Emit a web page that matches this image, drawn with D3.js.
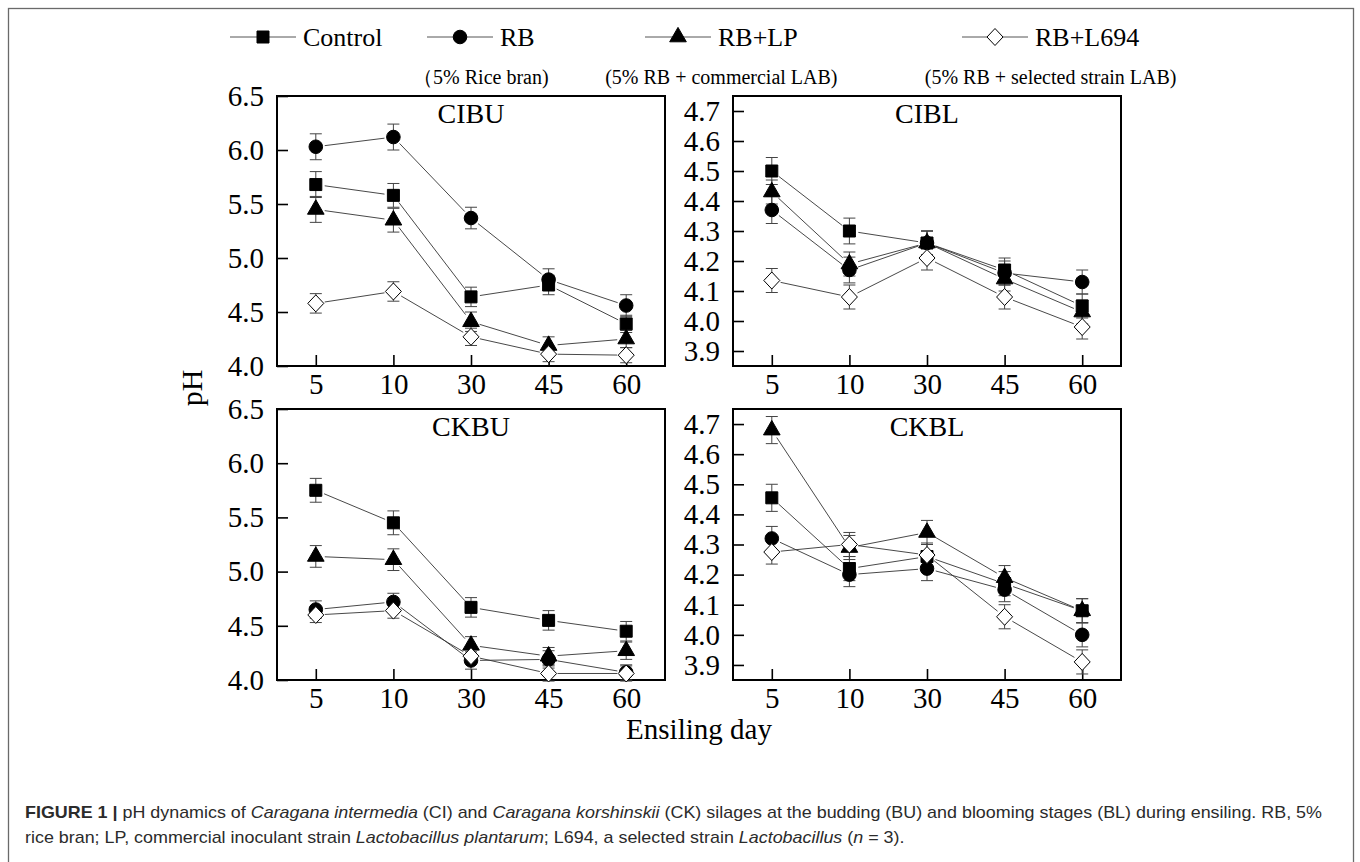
<!DOCTYPE html>
<html>
<head>
<meta charset="utf-8">
<script src="https://cdn.jsdelivr.net/npm/d3@7"></script>
<style>
  body { margin: 0; background: #fff; }
  svg { display: block; }
</style>
</head>
<body>
<div id="chart"></div>
<script>
// ensiling days (x categories) and treatments
const days = ["5", "10", "30", "45", "60"];
const treatments = ["Control", "RB", "RB+LP", "RB+L694"];
const treatmentNotes = ["", "（5% Rice bran)", "(5% RB + commercial LAB)", "(5% RB + selected strain LAB)"];

// pH means, one row per treatment (Control, RB, RB+LP, RB+L694)
const cibuPH = [
  [5.68, 5.58, 4.64, 4.75, 4.39],
  [6.03, 6.12, 5.37, 4.80, 4.56],
  [5.45, 5.35, 4.41, 4.19, 4.25],
  [4.58, 4.69, 4.27, 4.11, 4.10]
];
const cibuSE = [
  [0.12, 0.11, 0.09, 0.09, 0.08],
  [0.12, 0.12, 0.10, 0.10, 0.10],
  [0.12, 0.11, 0.09, 0.08, 0.08],
  [0.09, 0.09, 0.08, 0.07, 0.07]
];
const ciblPH = [
  [4.50, 4.30, 4.26, 4.17, 4.05],
  [4.37, 4.17, 4.26, 4.16, 4.13],
  [4.43, 4.19, 4.26, 4.14, 4.03],
  [4.135, 4.08, 4.21, 4.08, 3.98]
];
const ciblSE = [
  [0.045, 0.043, 0.04, 0.04, 0.04],
  [0.045, 0.043, 0.04, 0.04, 0.04],
  [0.04, 0.04, 0.04, 0.04, 0.04],
  [0.04, 0.04, 0.04, 0.04, 0.04]
];
const ckbuPH = [
  [5.75, 5.45, 4.67, 4.55, 4.45],
  [4.65, 4.72, 4.18, 4.19, 4.07],
  [5.14, 5.11, 4.32, 4.22, 4.27],
  [4.60, 4.64, 4.22, 4.06, 4.06]
];
const ckbuSE = [
  [0.11, 0.11, 0.09, 0.09, 0.09],
  [0.08, 0.08, 0.08, 0.08, 0.07],
  [0.10, 0.10, 0.08, 0.08, 0.08],
  [0.07, 0.07, 0.07, 0.07, 0.07]
];
const ckblPH = [
  [4.455, 4.22, 4.26, 4.17, 4.08],
  [4.32, 4.20, 4.22, 4.15, 4.00],
  [4.68, 4.29, 4.34, 4.19, 4.08],
  [4.275, 4.30, 4.265, 4.06, 3.91]
];
const ckblSE = [
  [0.045, 0.04, 0.04, 0.04, 0.04],
  [0.04, 0.04, 0.04, 0.04, 0.04],
  [0.045, 0.04, 0.04, 0.04, 0.04],
  [0.04, 0.04, 0.04, 0.04, 0.04]
];

// axis tick values
const ticksBU = [4.0, 4.5, 5.0, 5.5, 6.0, 6.5];
const ticksBL = [3.9, 4.0, 4.1, 4.2, 4.3, 4.4, 4.5, 4.6, 4.7];

const W = 1360, H = 862;
const serif = "'Liberation Serif', 'Times New Roman', serif";

const svg = d3.select("#chart").append("svg")
  .attr("width", W)
  .attr("height", H);

svg.append("rect").attr("width", W).attr("height", H).attr("fill", "#fff");

// outer figure box (runs off the bottom)
svg.append("rect")
  .attr("x", 8.5).attr("y", 8.5)
  .attr("width", 1345).attr("height", 880)
  .attr("fill", "none")
  .attr("stroke", "#6a6a6a")
  .attr("stroke-width", 1.3);

// marker shapes
const diamondPath = "M0,-8.5L8,0L0,8.5L-8,0Z";
function markerPath(i) {
  if (i === 0) return d3.symbol(d3.symbolSquare, 144)();
  if (i === 1) return d3.symbol(d3.symbolCircle, 145)();
  if (i === 2) return d3.symbol(d3.symbolTriangle, 120)();
  return diamondPath;
}
function markerFill(i) { return i === 3 ? "#fff" : "#000"; }

// ---- legend ----
const legendX = [230, 427, 645, 962];   // start of each legend line
const legendY = 37;
const legend = svg.append("g");
treatments.forEach((name, i) => {
  const g = legend.append("g").attr("transform", `translate(${legendX[i]},${legendY})`);
  g.append("line").attr("x1", 0).attr("x2", 66).attr("y1", 0).attr("y2", 0)
    .attr("stroke", "#555").attr("stroke-width", 1);
  g.append("path").attr("d", markerPath(i))
    .attr("transform", "translate(33,0)")
    .attr("fill", markerFill(i)).attr("stroke", "#000").attr("stroke-width", 1);
  const t = g.append("text").attr("x", 73).attr("y", 9)
    .style("font-family", serif).style("font-size", "26px")
    .text(name);
  if (treatmentNotes[i]) {
    const w = 73 + t.node().getComputedTextLength();
    g.append("text")
      .attr("x", w / 2).attr("y", 47)
      .attr("text-anchor", "middle")
      .style("font-family", serif).style("font-size", "20px")
      .text(treatmentNotes[i]);
  }
});

// ---- panels ----
const panelW = 388;
const panels = [
  { title: "CIBU", mean: cibuPH, se: cibuSE, x0: 277, y0: 96, y1: 366, domain: [4.0, 6.5], ticks: ticksBU },
  { title: "CIBL", mean: ciblPH, se: ciblSE, x0: 733, y0: 96, y1: 366, domain: [3.85, 4.75], ticks: ticksBL },
  { title: "CKBU", mean: ckbuPH, se: ckbuSE, x0: 277, y0: 409, y1: 680, domain: [4.0, 6.5], ticks: ticksBU },
  { title: "CKBL", mean: ckblPH, se: ckblSE, x0: 733, y0: 409, y1: 680, domain: [3.85, 4.75], ticks: ticksBL }
];

panels.forEach(p => {
  const x = d3.scalePoint().domain(days).range([p.x0, p.x0 + panelW]).padding(0.5);
  const y = d3.scaleLinear().domain(p.domain).range([p.y1, p.y0]);
  const g = svg.append("g");

  // axes with inward ticks
  const ya = g.append("g")
    .attr("transform", `translate(${p.x0},0)`)
    .call(d3.axisLeft(y).tickValues(p.ticks).tickFormat(d3.format(".1f"))
      .tickSizeInner(-11).tickSizeOuter(0).tickPadding(13));
  const xa = g.append("g")
    .attr("transform", `translate(0,${p.y1})`)
    .call(d3.axisBottom(x).tickSizeInner(-11).tickSizeOuter(0).tickPadding(7));
  [ya, xa].forEach(a => {
    a.select(".domain").remove();
    a.selectAll("line").attr("stroke", "#000").attr("stroke-width", 1.6);
    a.selectAll("text")
      .style("font-family", serif).style("font-size", "29px").attr("fill", "#000");
  });

  // frame
  g.append("rect")
    .attr("x", p.x0).attr("y", p.y0)
    .attr("width", panelW).attr("height", p.y1 - p.y0)
    .attr("fill", "none").attr("stroke", "#000").attr("stroke-width", 2);

  // title
  g.append("text")
    .attr("x", p.x0 + panelW / 2).attr("y", p.y0 + 27)
    .attr("text-anchor", "middle")
    .style("font-family", serif).style("font-size", "28px")
    .text(p.title);

  p.mean.forEach((vals, si) => {
    const pts = vals.map((v, j) => [x(days[j]), y(v)]);

    // connecting segments, stopped short of the markers
    const gap = 9;
    for (let j = 0; j < pts.length - 1; j++) {
      const [ax, ay] = pts[j], [bx, by] = pts[j + 1];
      const len = Math.hypot(bx - ax, by - ay);
      if (len <= gap * 2) continue;
      const ux = (bx - ax) / len, uy = (by - ay) / len;
      g.append("line")
        .attr("x1", ax + ux * gap).attr("y1", ay + uy * gap)
        .attr("x2", bx - ux * gap).attr("y2", by - uy * gap)
        .attr("stroke", "#333").attr("stroke-width", 0.9);
    }

    // error bars
    vals.forEach((v, j) => {
      const cx = x(days[j]);
      const e = p.se[si][j];
      const top = y(v + e), bot = y(v - e);
      g.append("line").attr("x1", cx).attr("x2", cx).attr("y1", top).attr("y2", bot)
        .attr("stroke", "#444").attr("stroke-width", 1);
      [top, bot].forEach(yy => {
        g.append("line").attr("x1", cx - 6).attr("x2", cx + 6).attr("y1", yy).attr("y2", yy)
          .attr("stroke", "#444").attr("stroke-width", 1);
      });
    });
  });

  // markers on top
  p.mean.forEach((vals, si) => {
    g.selectAll(null)
      .data(vals)
      .enter().append("path")
      .attr("d", markerPath(si))
      .attr("transform", (d, j) => `translate(${x(days[j])},${y(d)})`)
      .attr("fill", markerFill(si))
      .attr("stroke", "#000")
      .attr("stroke-width", 1);
  });
});

// axis titles
svg.append("text")
  .attr("transform", "translate(202,388) rotate(-90)")
  .attr("text-anchor", "middle")
  .style("font-family", serif).style("font-size", "30px")
  .text("pH");

svg.append("text")
  .attr("x", 699).attr("y", 739)
  .attr("text-anchor", "middle")
  .style("font-family", serif).style("font-size", "29px")
  .text("Ensiling day");

// ---- caption ----
const sans = "'Liberation Sans', Arial, sans-serif";
const cap1 = svg.append("text").attr("x", 25).attr("y", 818)
  .style("font-family", sans).style("font-size", "17px").attr("fill", "#2b2b2b");
[
  ["FIGURE 1 | ", "bold", "normal"],
  ["pH dynamics of ", "normal", "normal"],
  ["Caragana intermedia", "normal", "italic"],
  [" (CI) and ", "normal", "normal"],
  ["Caragana korshinskii", "normal", "italic"],
  [" (CK) silages at the budding (BU) and blooming stages (BL) during ensiling. RB, 5%", "normal", "normal"]
].forEach(([t, w, s]) => cap1.append("tspan").style("font-weight", w).style("font-style", s).text(t));

const cap2 = svg.append("text").attr("x", 25).attr("y", 843)
  .style("font-family", sans).style("font-size", "17px").attr("fill", "#2b2b2b");
[
  ["rice bran; LP, commercial inoculant strain ", "normal"],
  ["Lactobacillus plantarum", "italic"],
  ["; L694, a selected strain ", "normal"],
  ["Lactobacillus", "italic"],
  [" (", "normal"],
  ["n", "italic"],
  [" = 3).", "normal"]
].forEach(([t, s]) => cap2.append("tspan").style("font-style", s).text(t));

// stretch caption lines to the measured width of the first line
const natural1 = cap1.node().getComputedTextLength();
const k = 1297 / natural1;
cap1.attr("textLength", 1297).attr("lengthAdjust", "spacingAndGlyphs");
cap2.attr("textLength", cap2.node().getComputedTextLength() * k).attr("lengthAdjust", "spacingAndGlyphs");
</script>
</body>
</html>
